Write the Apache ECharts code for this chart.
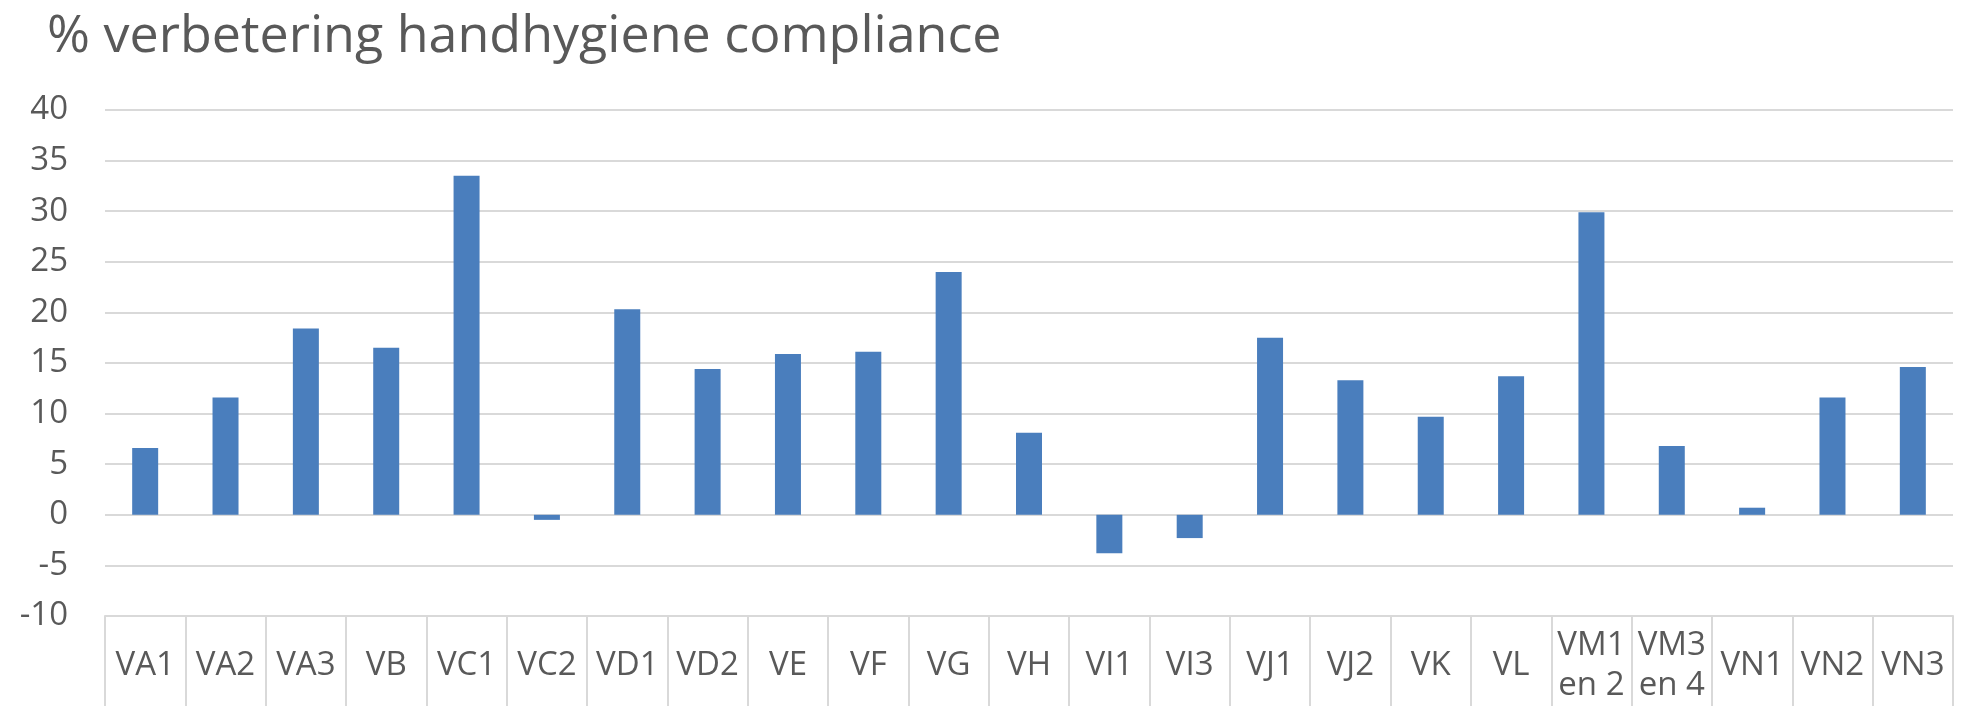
<!DOCTYPE html>
<html>
<head>
<meta charset="utf-8">
<script src="https://cdn.jsdelivr.net/npm/echarts@6/dist/echarts.min.js"></script>
<style>
html,body{margin:0;padding:0;background:#fff;}
#chart{width:1966px;height:706px;}
</style>
</head>
<body>
<div id="chart"></div>
<script>
const titleText = '% verbetering handhygiene compliance';
const categories = ['VA1','VA2','VA3','VB','VC1','VC2','VD1','VD2','VE','VF','VG','VH','VI1','VI3','VJ1','VJ2','VK','VL','VM1\nen 2','VM3\nen 4','VN1','VN2','VN3'];
const values = [6.6, 11.6, 18.4, 16.5, 33.5, -0.5, 20.3, 14.4, 15.9, 16.1, 24.0, 8.1, -3.8, -2.3, 17.5, 13.3, 9.7, 13.7, 29.9, 6.8, 0.7, 11.6, 14.6];
const yMin = -10, yMax = 40, yStep = 5;

const chart = echarts.init(document.getElementById('chart'), null, {renderer:'canvas'});
const font = 'Open Sans';
chart.setOption({
  animation: false,
  backgroundColor: '#ffffff',
  title: {
    text: titleText,
    left: 42,
    top: 6,
    textStyle: {fontFamily: font, fontSize: 52, fontWeight: 'normal', color: '#595959'}
  },
  grid: {left: 105, right: 13, top: 110, bottom: 86, containLabel: false},
  xAxis: {
    type: 'category',
    data: categories,
    boundaryGap: true,
    axisLine: {onZero: false, lineStyle: {color: '#d9d9d9', width: 2}},
    axisTick: {show: true, inside: false, length: 100, lineStyle: {color: '#d9d9d9', width: 2}},
    axisLabel: {
      interval: 0, margin: 50, verticalAlign: 'middle',
      fontFamily: font, fontSize: 33, lineHeight: 40, color: '#595959'
    },
    splitLine: {show: false}
  },
  yAxis: {
    type: 'value',
    min: yMin, max: yMax, interval: yStep,
    axisLine: {show: false},
    axisTick: {show: false},
    axisLabel: {margin: 37, fontFamily: font, fontSize: 33, color: '#595959'},
    splitLine: {lineStyle: {color: '#d9d9d9', width: 2}}
  },
  series: [{
    type: 'bar',
    data: values,
    barWidth: 26,
    itemStyle: {color: '#4a7ebd'}
  }]
});
</script>
</body>
</html>
